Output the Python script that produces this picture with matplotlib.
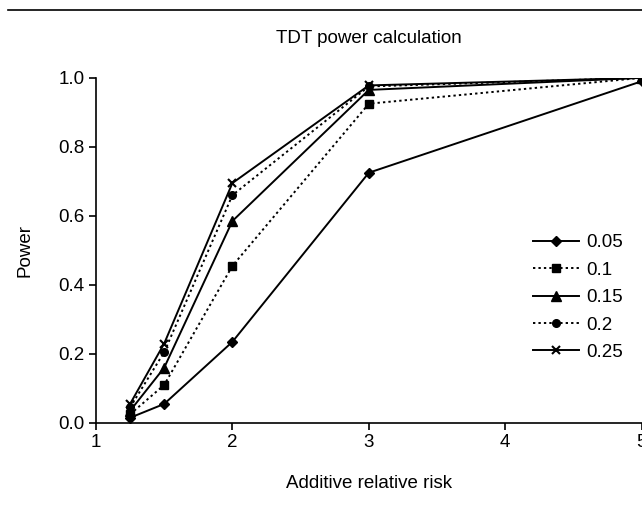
import matplotlib.pyplot as plt
from matplotlib.lines import Line2D

plt.rcParams['font.family'] = ['Liberation Sans', 'DejaVu Sans']

risk = [1.25, 1.5, 2, 3, 5]
p005 = [0.015, 0.055, 0.235, 0.725, 0.99]
p010 = [0.025, 0.11, 0.455, 0.925, 1.0]
p015 = [0.035, 0.16, 0.585, 0.965, 1.0]
p020 = [0.045, 0.205, 0.66, 0.975, 1.0]
p025 = [0.055, 0.23, 0.695, 0.978, 1.0]
labels = ["0.05", "0.1", "0.15", "0.2", "0.25"]

fs = 13.5
fig = plt.figure(figsize=(6.42, 5.12), dpi=100)
ax = fig.add_axes([0.1495, 0.174, 0.85, 0.674])

dots = (0, (1.2, 1.6))
ax.plot(risk, p005, color="black", linewidth=1.4, linestyle="-", marker="D", markersize=5, label=labels[0])
ax.plot(risk, p010, color="black", linewidth=1.4, linestyle=dots, marker="s", markersize=5.5, label=labels[1])
ax.plot(risk, p015, color="black", linewidth=1.4, linestyle="-", marker="^", markersize=6.5, label=labels[2])
ax.plot(risk, p020, color="black", linewidth=1.4, linestyle=dots, marker="o", markersize=5.5, label=labels[3])
ax.plot(risk, p025, color="black", linewidth=1.4, linestyle="-", marker="x", markersize=6, markeredgewidth=1.5, label=labels[4])

ax.set_xlim(1, 5)
ax.set_ylim(0, 1.0)
ax.set_xticks([1, 2, 3, 4, 5])
ax.set_yticks([0.0, 0.2, 0.4, 0.6, 0.8, 1.0])
ax.set_yticklabels(["0.0", "0.2", "0.4", "0.6", "0.8", "1.0"])
ax.spines['top'].set_visible(False)
ax.spines['right'].set_visible(False)
ax.spines['left'].set_linewidth(1.2)
ax.spines['bottom'].set_linewidth(1.2)
ax.tick_params(labelsize=fs, length=5, direction='out', width=1.2, pad=3)
ax.set_title("TDT power calculation", fontsize=fs, pad=25)
ax.set_xlabel("Additive relative risk", fontsize=fs, labelpad=17)
ax.set_ylabel("Power", fontsize=fs, labelpad=18)

ax.legend(loc="upper left", bbox_to_anchor=(0.80, 0.547), frameon=False, fontsize=fs,
          handlelength=2.5, handletextpad=0.35, labelspacing=0.55, borderpad=0, borderaxespad=0)

fig.add_artist(Line2D([0.012, 1.0], [0.98, 0.98], color="black", linewidth=1.2))

plt.savefig("out.png", dpi=100)
